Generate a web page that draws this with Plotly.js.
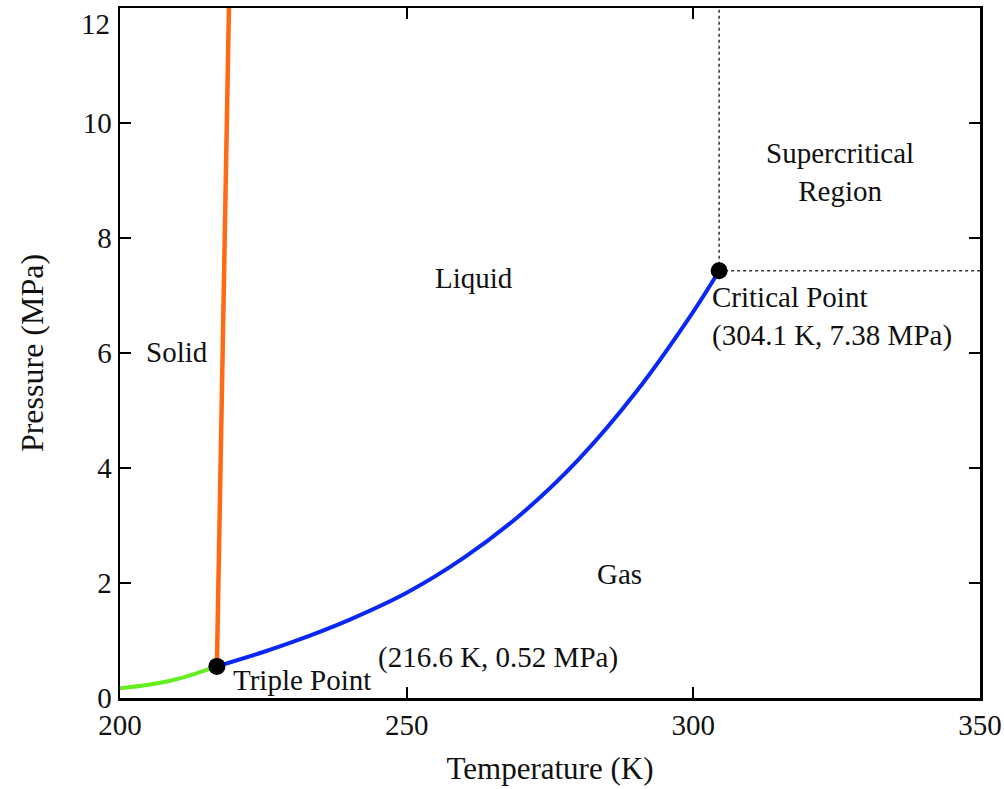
<!DOCTYPE html>
<html>
<head>
<meta charset="utf-8">
<script src="https://cdn.plot.ly/plotly-3.0.1.min.js"></script>
<style>
  html, body { margin: 0; padding: 0; background: #fff; }
  #chart { width: 1004px; height: 789px; }
</style>
</head>
<body>
<div id="chart"></div>
<script>
// Sublimation curve (solid-gas)
const sublimT = [200, 205, 210, 216.9];
const sublimP = [0.17, 0.23, 0.33, 0.55];
// Melting curve (solid-liquid)
const meltT = [216.9, 219.0];
const meltP = [0.55, 12];
// Vaporization curve (liquid-gas)
const vapT = [216.9, 225, 230, 240, 250, 260, 270, 280, 290, 300, 304.5];
const vapP = [0.55, 0.80, 0.97, 1.36, 1.83, 2.44, 3.20, 4.15, 5.32, 6.72, 7.43];
// Special points
const tripleT = 216.9, tripleP = 0.55;
const criticalT = 304.5, criticalP = 7.43;
// Axis ticks
const xTicks = [200, 250, 300, 350];
const yTicks = [0, 2, 4, 6, 8, 10];
const xRange = [200, 350];
const yRange = [0, 12];

const FONT = 'Liberation Serif, Times New Roman, serif';
const TXT = '#111';

const traces = [
  {x: sublimT, y: sublimP, mode: 'lines', line: {color: '#66ee22', width: 4, shape: 'spline'}, hoverinfo: 'skip'},
  {x: meltT, y: meltP, mode: 'lines', line: {color: '#ff6a14', width: 4.5}, hoverinfo: 'skip'},
  {x: vapT, y: vapP, mode: 'lines', line: {color: '#0a28f5', width: 4, shape: 'spline', smoothing: 1}, hoverinfo: 'skip'},
  {x: [criticalT, criticalT], y: [criticalP, yRange[1]], mode: 'lines', line: {color: '#333', width: 1.5, dash: 'dot'}, hoverinfo: 'skip'},
  {x: [criticalT, xRange[1]], y: [criticalP, criticalP], mode: 'lines', line: {color: '#333', width: 1.5, dash: 'dot'}, hoverinfo: 'skip'},
  {x: [tripleT, criticalT], y: [tripleP, criticalP], mode: 'markers', marker: {color: '#000', size: 17}, hoverinfo: 'skip', cliponaxis: false}
];

function ann(text, x, y, xanchor, align) {
  return {text: text, x: x, y: y, xref: 'x', yref: 'y', showarrow: false,
          xanchor: xanchor || 'center', yanchor: 'middle', align: align || 'center',
          font: {family: FONT, size: 29, color: TXT}};
}

const annotations = [
  ann('Solid', 210.0, 6.02),
  ann('Liquid', 261.8, 7.3),
  ann('Gas', 287.2, 2.16),
  ann('Supercritical<br>Region', 325.6, 9.15),
  ann('Critical Point<br>(304.1 K, 7.38 MPa)', 302.9, 6.63, 'left', 'left'),
  ann('Triple Point', 219.4, 0.31, 'left', 'left'),
  ann('(216.6 K, 0.52 MPa)', 244.7, 0.7, 'left', 'left'),
  {text: '12', xref: 'paper', yref: 'paper', x: 0, y: 1, xanchor: 'right', yanchor: 'top',
   xshift: -8, yshift: 2, showarrow: false, font: {family: FONT, size: 29, color: TXT}}
];

const axisCommon = {
  showgrid: false, zeroline: false, showline: true, linecolor: '#000', linewidth: 2.5,
  mirror: 'ticks', ticks: 'inside', ticklen: 11, tickwidth: 2, tickcolor: '#000',
  tickfont: {family: FONT, size: 29, color: TXT}
};

const layout = {
  width: 1004, height: 789,
  margin: {l: 120, r: 24, t: 8, b: 91},
  paper_bgcolor: '#fff', plot_bgcolor: '#fff',
  showlegend: false,
  xaxis: Object.assign({}, axisCommon, {
    range: xRange, tickvals: xTicks, ticktext: xTicks.map(String),
    title: {text: 'Temperature (K)', font: {family: FONT, size: 31, color: TXT}, standoff: 17}
  }),
  yaxis: Object.assign({}, axisCommon, {
    range: yRange, tickvals: yTicks, ticktext: yTicks.map(String),
    title: {text: 'Pressure (MPa)', font: {family: FONT, size: 32, color: TXT}, standoff: 30}
  }),
  annotations: annotations
};

Plotly.newPlot('chart', traces, layout, {displayModeBar: false, staticPlot: true});
</script>
</body>
</html>
